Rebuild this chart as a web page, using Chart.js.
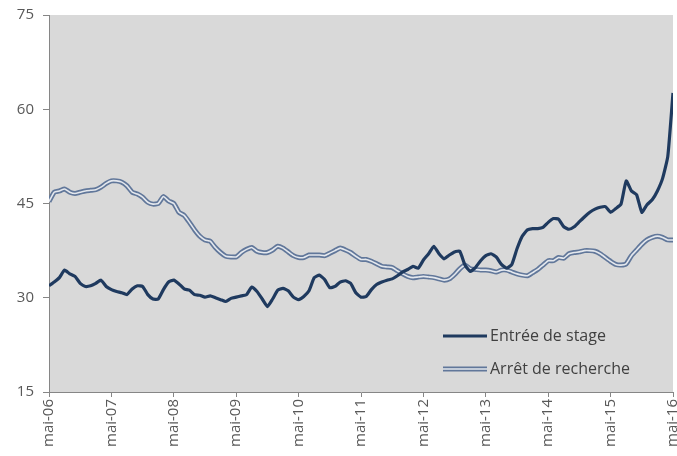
<!DOCTYPE html>
<html>
<head>
<meta charset="utf-8">
<script src="https://cdn.jsdelivr.net/npm/chart.js@4.4.0/dist/chart.umd.min.js"></script>
<style>
  html, body { margin: 0; padding: 0; background: #fff; }
  #wrap { width: 677px; height: 456px; }
</style>
</head>
<body>
<div id="wrap"><canvas id="chart"></canvas></div>
<script>
// one value per month, mai-06 .. mai-16
const yearLabels = ['mai-06', 'mai-07', 'mai-08', 'mai-09', 'mai-10', 'mai-11',
    'mai-12', 'mai-13', 'mai-14', 'mai-15', 'mai-16'];
const yTicks = [15, 30, 45, 60, 75];

const entreeStage = [
    31.9, 32.5, 33.2, 34.4, 33.8, 33.4, 32.3, 31.8, 31.9, 32.3, 32.8, 31.8,
    31.3, 31.0, 30.8, 30.5, 31.4, 31.9, 31.8, 30.5, 29.8, 29.8, 31.3, 32.5,
    32.8, 32.2, 31.4, 31.2, 30.5, 30.4, 30.1, 30.3, 30.0, 29.7, 29.4, 29.9,
    30.1, 30.3, 30.5, 31.7, 31.0, 29.8, 28.6, 29.8, 31.2, 31.5, 31.1, 30.1,
    29.7, 30.2, 31.1, 33.2, 33.6, 32.9, 31.6, 31.8, 32.5, 32.7, 32.3, 30.8,
    30.1, 30.2, 31.3, 32.1, 32.5, 32.8, 33.0, 33.5, 34.1, 34.5, 35.0, 34.7,
    36.0, 37.0, 38.2, 37.0, 36.2, 36.8, 37.3, 37.4, 35.2, 34.2, 34.8, 35.9,
    36.7, 37.0, 36.5, 35.3, 34.7, 35.3, 37.8, 39.8, 40.8, 41.0, 41.0, 41.2,
    42.0, 42.6, 42.5, 41.3, 40.9, 41.3, 42.1, 42.9, 43.6, 44.1, 44.4, 44.5,
    43.6, 44.2, 44.9, 48.6, 47.0, 46.4, 43.6, 44.8, 45.6, 47.0, 49.0, 52.5,
    62.6
];

const arretRecherche = [
    45.3, 46.8, 47.0, 47.3, 46.8, 46.6, 46.8, 47.0, 47.1, 47.2, 47.6, 48.2,
    48.6, 48.6, 48.4, 47.8, 46.8, 46.5, 46.0, 45.2, 44.9, 45.0, 46.1, 45.4,
    45.0, 43.6, 43.1, 42.0, 40.8, 39.8, 39.2, 39.0, 38.0, 37.2, 36.6, 36.5,
    36.5, 37.2, 37.7, 38.0, 37.4, 37.2, 37.2, 37.6, 38.2, 37.9, 37.3, 36.7,
    36.4, 36.4, 36.8, 36.8, 36.8, 36.7, 37.1, 37.5, 37.9, 37.6, 37.2, 36.6,
    36.1, 36.1, 35.8, 35.4, 35.0, 34.9, 34.8, 34.3, 33.8, 33.4, 33.2, 33.3,
    33.4, 33.3, 33.2, 33.0, 32.8, 33.0, 33.7, 34.6, 35.2, 34.6, 34.5, 34.4,
    34.4, 34.3, 34.1, 34.4, 34.4, 34.1, 33.8, 33.6, 33.5, 34.0, 34.5, 35.2,
    35.9, 35.9, 36.4, 36.3, 37.0, 37.2, 37.3, 37.5, 37.5, 37.4, 37.0, 36.4,
    35.8, 35.3, 35.2, 35.4, 36.7, 37.6, 38.5, 39.2, 39.6, 39.8, 39.6, 39.2,
    39.2
];

const toPoints = arr => arr.map((v, i) => ({ x: i, y: v }));

const navy = '#1f3a5f';
const slate = '#61779a';
const slateInner = '#e4e8ee';
const axisGrey = '#868686';

// grey plot background
const plotBg = {
    id: 'plotBg',
    beforeDraw(chart) {
        const { ctx, chartArea: { left, top, width, height } } = chart;
        ctx.save();
        ctx.fillStyle = '#d9d9d9';
        ctx.fillRect(left, top, width, height);
        ctx.restore();
    }
};

// legend drawn inside the plot, with the double line for the 2nd series
const innerLegend = {
    id: 'innerLegend',
    afterDraw(chart) {
        const ctx = chart.ctx;
        const items = [
            { text: chart.data.datasets[0].label, y: 336, styles: [[navy, 3.2]] },
            { text: chart.data.datasets[1].label, y: 369, styles: [[slate, 5], [slateInner, 1.6]] }
        ];
        ctx.save();
        ctx.font = '16px "Open Sans"';
        ctx.fillStyle = '#404040';
        ctx.textBaseline = 'middle';
        for (const it of items) {
            for (const [c, w] of it.styles) {
                ctx.strokeStyle = c;
                ctx.lineWidth = w;
                ctx.beginPath();
                ctx.moveTo(443, it.y);
                ctx.lineTo(487, it.y);
                ctx.stroke();
            }
            ctx.fillText(it.text, 490, it.y);
        }
        ctx.restore();
    }
};

new Chart(document.getElementById('chart'), {
    type: 'line',
    data: {
        datasets: [
            {
                label: 'Entrée de stage',
                data: toPoints(entreeStage),
                borderColor: navy,
                borderWidth: 3.2,
                pointRadius: 0,
                tension: 0.15,
                order: 0
            },
            {
                label: 'Arrêt de recherche',
                data: toPoints(arretRecherche),
                borderColor: slate,
                borderWidth: 5,
                pointRadius: 0,
                tension: 0.15,
                order: 2
            },
            {
                label: '_inner',
                data: toPoints(arretRecherche),
                borderColor: slateInner,
                borderWidth: 1.6,
                pointRadius: 0,
                tension: 0.15,
                order: 1
            }
        ]
    },
    plugins: [plotBg, innerLegend],
    options: {
        responsive: true,
        maintainAspectRatio: false,
        animation: false,
        layout: {
            padding: { top: 15, right: 4, left: 0, bottom: 0 }
        },
        scales: {
            x: {
                type: 'linear',
                min: 0,
                max: 120,
                afterFit: s => {
                    s.height = 64;
                    s.paddingLeft = 0;
                    s.paddingRight = 0;
                },
                grid: {
                    display: true,
                    drawOnChartArea: false,
                    drawTicks: true,
                    tickLength: 5,
                    color: axisGrey
                },
                border: { display: true, color: axisGrey, width: 1 },
                ticks: {
                    stepSize: 12,
                    autoSkip: false,
                    maxRotation: 90,
                    minRotation: 90,
                    padding: 2,
                    color: '#595959',
                    font: { family: 'Open Sans', size: 15 },
                    callback: v => yearLabels[v / 12]
                }
            },
            y: {
                min: 15,
                max: 75,
                afterBuildTicks: axis => {
                    axis.ticks = yTicks.map(v => ({ value: v }));
                },
                afterFit: s => {
                    s.width = 49;
                    s.paddingTop = 0;
                    s.paddingBottom = 0;
                },
                grid: {
                    display: true,
                    drawOnChartArea: false,
                    drawTicks: true,
                    tickLength: 6,
                    color: axisGrey
                },
                border: { display: true, color: axisGrey, width: 1 },
                ticks: {
                    padding: 9,
                    color: '#595959',
                    font: { family: 'Open Sans', size: 15 }
                }
            }
        },
        plugins: {
            legend: { display: false },
            tooltip: { enabled: false }
        }
    }
});
</script>
</body>
</html>
